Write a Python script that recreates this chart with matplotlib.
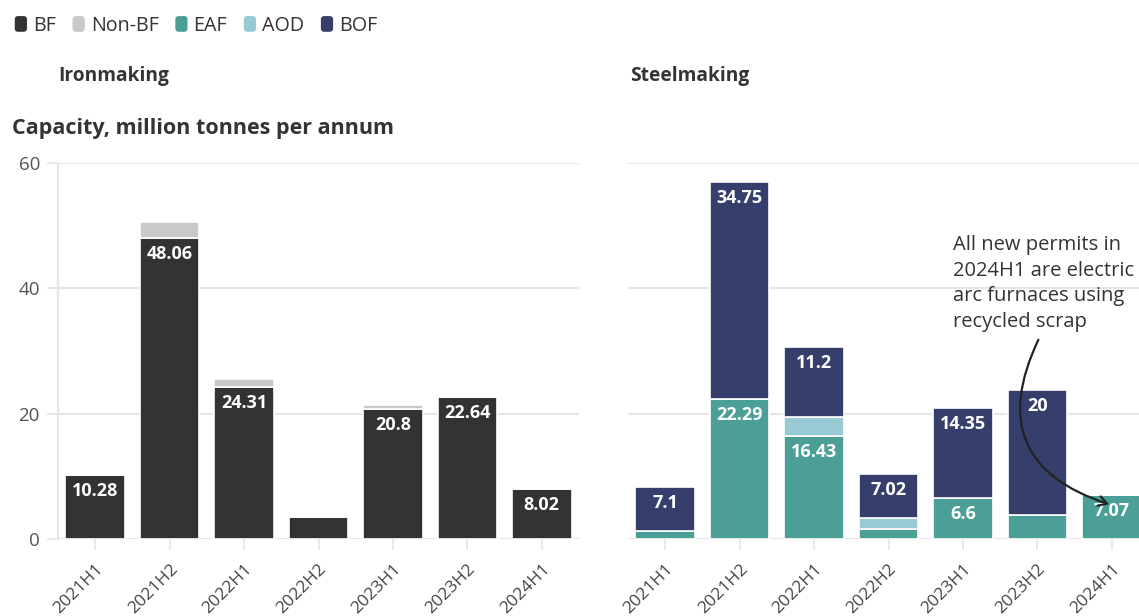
import matplotlib
matplotlib.use("Agg")
import matplotlib.pyplot as plt
from matplotlib.patches import Patch, FancyBboxPatch
from matplotlib.legend_handler import HandlerPatch
import matplotlib.transforms as mtransforms

plt.rcParams['font.family'] = ['Open Sans', 'DejaVu Sans']

# Half-year permit periods
periods = ['2021H1', '2021H2', '2022H1', '2022H2', '2023H1', '2023H2', '2024H1']

# Ironmaking capacity (Mt/yr)
bf = [10.28, 48.06, 24.31, 3.55, 20.8, 22.64, 8.02]
non_bf = [0, 2.6, 1.2, 0, 0.6, 0, 0]

# Steelmaking capacity (Mt/yr)
eaf = [1.2, 22.29, 16.43, 1.6, 6.6, 3.85, 7.07]
aod = [0, 0, 3.05, 1.7, 0, 0, 0]
bof = [7.1, 34.75, 11.2, 7.02, 14.35, 20, 0]

yticks = [0, 20, 40, 60]

C_BF = '#333333'
C_NONBF = '#c9c9c9'
C_EAF = '#4b9f97'
C_AOD = '#98cad5'
C_BOF = '#363f6b'
GRID = '#e6e6e6'

W, H = 1139, 616
fig = plt.figure(figsize=(W / 100, H / 100), dpi=100)

ax1 = fig.add_axes([58 / W, (H - 539) / H, 521 / W, 376 / H])
ax2 = fig.add_axes([628 / W, (H - 539) / H, 521 / W, 376 / H])


def stacked(ax, layers):
    x = list(range(len(periods)))
    base = [0] * len(periods)
    for values, color in layers:
        ax.bar(x, values, bottom=base, width=0.8, color=color,
               edgecolor='white', linewidth=1.2, zorder=3)
        for i, v in enumerate(values):
            if v >= 5:
                ax.annotate(f"{v:g}", xy=(i, base[i] + v), xytext=(0, -11.5),
                            textcoords='offset points', ha='center', va='center',
                            color='white', fontsize=13, fontweight='bold', zorder=4)
        base = [b + v for b, v in zip(base, values)]


stacked(ax1, [(bf, C_BF), (non_bf, C_NONBF)])
stacked(ax2, [(eaf, C_EAF), (aod, C_AOD), (bof, C_BOF)])

offset = mtransforms.ScaledTranslation(10 / 100, 0, fig.dpi_scale_trans)
for ax in (ax1, ax2):
    ax.set_xlim(-0.5, 6.5)
    ax.set_ylim(0, 60)
    ax.set_yticks(yticks)
    ax.yaxis.grid(True, color=GRID, linewidth=1.5, zorder=0)
    ax.set_axisbelow(True)
    for s in ('top', 'right', 'bottom'):
        ax.spines[s].set_visible(False)
    ax.set_xticks(range(len(periods)))
    ax.set_xticklabels(periods, rotation=45, ha='right', rotation_mode='anchor',
                       fontsize=12.5, color='#444444')
    for lab in ax.get_xticklabels():
        lab.set_transform(lab.get_transform() + offset)
    ax.tick_params(axis='x', length=8, width=1.2, color=GRID, pad=8)

ax1.spines['left'].set_color(GRID)
ax1.spines['left'].set_linewidth(1.5)
ax1.tick_params(axis='y', length=8, width=1.5, color=GRID, labelsize=13.5,
                labelcolor='#555555', pad=5)
ax2.spines['left'].set_visible(False)
ax2.tick_params(axis='y', length=0, labelleft=False)

# Panel titles and axis caption
fig.text(58 / W, 1 - 76 / H, 'Ironmaking', fontsize=13.8, fontweight='bold',
         color='#333333', va='center', ha='left')
fig.text(630 / W, 1 - 76 / H, 'Steelmaking', fontsize=13.8, fontweight='bold',
         color='#333333', va='center', ha='left')
fig.text(12 / W, 1 - 128 / H, 'Capacity, million tonnes per annum', fontsize=15.5,
         fontweight='bold', color='#333333', va='center', ha='left')

# Callout on the 2024H1 steel permits
ax2.annotate('All new permits in\n2024H1 are electric\narc furnaces using\nrecycled scrap',
             xy=(6, 5.4), xytext=(3.86, 48.5), textcoords='data',
             ha='left', va='top', fontsize=14.5, color='#333333', linespacing=1.38,
             annotation_clip=False, zorder=6)
ax2.annotate('', xy=(6, 5.4), xytext=(5.03, 32.2),
             arrowprops=dict(arrowstyle='->,head_length=0.6,head_width=0.35',
                             color='#222222', lw=1.6,
                             connectionstyle='arc3,rad=0.58'),
             zorder=6, annotation_clip=False)


class RoundedHandler(HandlerPatch):
    def create_artists(self, legend, orig_handle, xdescent, ydescent, width,
                       height, fontsize, trans):
        p = FancyBboxPatch((-xdescent, -ydescent), width, height,
                           boxstyle='round,pad=0,rounding_size=2.5',
                           facecolor=orig_handle.get_facecolor(), edgecolor='none',
                           transform=trans)
        return [p]


handles = [Patch(facecolor=c, label=l) for c, l in
           [(C_BF, 'BF'), (C_NONBF, 'Non-BF'), (C_EAF, 'EAF'), (C_AOD, 'AOD'), (C_BOF, 'BOF')]]
fig.legend(handles=handles, loc='upper left', bbox_to_anchor=(-3 / W, 1 + 2 / H),
           ncol=5, frameon=False, fontsize=14.2, handlelength=0.62, handleheight=0.85,
           handletextpad=0.3, columnspacing=0.85, labelcolor='#333333',
           handler_map={Patch: RoundedHandler()})

fig.savefig('out.png', dpi=100)
